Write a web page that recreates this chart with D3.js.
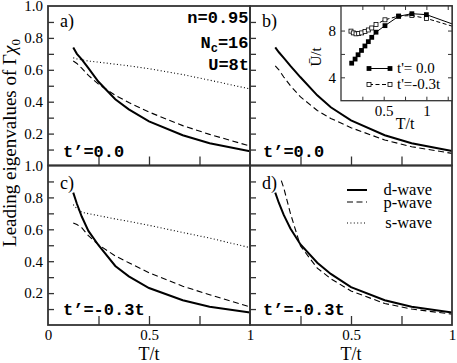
<!DOCTYPE html>
<html>
<head>
<meta charset="utf-8">
<script src="https://cdn.jsdelivr.net/npm/d3@7"></script>
<style>
  body { margin: 0; background: #fff; }
  svg { display: block; }
</style>
</head>
<body>
<div id="chart"></div>
<script>
// temperature grid T/t used by most curves
var tGrid = [0.125, 0.143, 0.167, 0.2, 0.25, 0.333, 0.4, 0.5, 0.667, 0.8, 1.0];
// p-wave of panel d) starts a bit later
var tGridDp = [0.155, 0.167, 0.2, 0.25, 0.333, 0.4, 0.5, 0.667, 0.8, 1.0];

// panel a)  t'=0.0
var aDwave = [0.74, 0.70, 0.665, 0.61, 0.525, 0.415, 0.352, 0.277, 0.19, 0.14, 0.09];
var aPwave = [0.655, 0.64, 0.61, 0.565, 0.51, 0.44, 0.395, 0.335, 0.25, 0.195, 0.122];
var aSwave = [0.675, 0.668, 0.662, 0.655, 0.648, 0.635, 0.625, 0.607, 0.57, 0.535, 0.48];
// panel b)  t'=0.0
var bDwave = [0.74, 0.71, 0.675, 0.625, 0.553, 0.44, 0.365, 0.283, 0.19, 0.14, 0.091];
var bPwave = [0.625, 0.60, 0.555, 0.50, 0.43, 0.345, 0.295, 0.237, 0.16, 0.118, 0.076];
// panel c)  t'=-0.3t
var cDwave = [0.83, 0.76, 0.68, 0.59, 0.50, 0.37, 0.305, 0.232, 0.155, 0.115, 0.079];
var cPwave = [0.64, 0.63, 0.61, 0.56, 0.503, 0.433, 0.39, 0.328, 0.243, 0.19, 0.114];
var cSwave = [0.755, 0.73, 0.707, 0.698, 0.686, 0.665, 0.65, 0.625, 0.58, 0.545, 0.485];
// panel d)  t'=-0.3t
var dDwave = [0.83, 0.765, 0.69, 0.605, 0.505, 0.39, 0.32, 0.237, 0.155, 0.115, 0.079];
var dPwave = [0.905, 0.86, 0.70, 0.495, 0.357, 0.29, 0.213, 0.135, 0.1, 0.068];

// inset: U-bar/t vs T/t
var insetT0 = [0.125, 0.165, 0.2, 0.24, 0.28, 0.32, 0.36, 0.41, 0.515, 0.675, 0.83, 1.0, 1.5];
var insetU0 = [5.21, 5.56, 5.93, 6.3, 6.68, 7.05, 7.42, 7.86, 8.42, 9.22, 9.44, 9.36, 8.05];
var insetT3 = [0.117, 0.144, 0.176, 0.207, 0.242, 0.281, 0.32, 0.36, 0.41, 0.515, 0.675, 0.83, 1.0, 1.5];
var insetU3 = [7.95, 7.8, 7.72, 7.74, 7.8, 7.92, 8.05, 8.22, 8.52, 8.92, 9.24, 9.28, 9.04, 7.94];

// ticks and labels
var xTicks = [0.25, 0.5, 0.75];
var yTicks = [0.1, 0.2, 0.3, 0.4, 0.5, 0.6, 0.7, 0.8, 0.9];
var yLabels = [0.2, 0.4, 0.6, 0.8, 1.0];
var insetXTicks = [0.25, 0.5, 0.75, 1.0, 1.25];
var insetYTicks = [4, 6, 8];
var insetXLabels = [0.5, 1];
var insetYLabels = [4, 8];
var legendNames = ["d-wave", "p-wave", "s-wave"];
var insetLegend = ["t'= 0.0", "t'=-0.3t"];

var serif = "'Liberation Serif', 'Times New Roman', serif";
var mono = "'Liberation Mono', 'Courier New', monospace";
var axisColor = "#333";

var svgWidth = 457, svgHeight = 363;
var margin = { left: 48, top: 6 };
var panelW = 202, panelH = 159.5;

var svg = d3.select("#chart")
  .append("svg")
  .attr("width", svgWidth)
  .attr("height", svgHeight);

svg.append("rect").attr("width", svgWidth).attr("height", svgHeight).attr("fill", "#fff");

var xScale = d3.scaleLinear().domain([0, 1]).range([0, panelW]);
var yScale = d3.scaleLinear().domain([0, 1]).range([panelH, 0]);

var lineStyle = {
  d: { width: 2, dash: null },
  p: { width: 1.1, dash: "6,3.5" },
  s: { width: 1.1, dash: "1,2.4" }
};

function zip(ts, vs) {
  return ts.map(function(t, i) { return [t, vs[i]]; });
}

var panels = [
  { col: 0, row: 0, label: "a)", tp: "t’=0.0", tpY: 156.5,
    series: [["d", zip(tGrid, aDwave)], ["p", zip(tGrid, aPwave)], ["s", zip(tGrid, aSwave)]] },
  { col: 1, row: 0, label: "b)", tp: "t’=0.0", tpY: 156.5,
    series: [["d", zip(tGrid, bDwave)], ["p", zip(tGrid, bPwave)]] },
  { col: 0, row: 1, label: "c)", tp: "t’=-0.3t", tpY: 315,
    series: [["d", zip(tGrid, cDwave)], ["p", zip(tGrid, cPwave)], ["s", zip(tGrid, cSwave)]] },
  { col: 1, row: 1, label: "d)", tp: "t’=-0.3t", tpY: 315,
    series: [["d", zip(tGrid, dDwave)], ["p", zip(tGridDp, dPwave)]] }
];

var line = d3.line()
  .x(function(d) { return xScale(d[0]); })
  .y(function(d) { return yScale(d[1]); });

panels.forEach(function(p) {
  var ox = margin.left + p.col * panelW;
  var oy = margin.top + p.row * panelH;
  var g = svg.append("g").attr("transform", `translate(${ox}, ${oy})`);

  // curves
  p.series.forEach(function(s) {
    var st = lineStyle[s[0]];
    g.append("path")
      .datum(s[1])
      .attr("d", line)
      .attr("fill", "none")
      .attr("stroke", "#000")
      .attr("stroke-width", st.width)
      .attr("stroke-dasharray", st.dash);
  });

  // inward ticks
  g.append("g")
    .attr("color", axisColor)
    .call(d3.axisLeft(yScale).tickValues(yTicks).tickSize(-6).tickFormat(""))
    .call(function(a) { a.select(".domain").remove(); })
    .selectAll("line").attr("stroke-width", 1.3);
  g.append("g")
    .attr("color", axisColor)
    .attr("transform", `translate(0, ${panelH})`)
    .call(d3.axisBottom(xScale).tickValues(xTicks).tickSize(-9).tickFormat(""))
    .call(function(a) { a.select(".domain").remove(); })
    .selectAll("line").attr("stroke-width", 1.3);

  // frame
  g.append("rect")
    .attr("width", panelW)
    .attr("height", panelH)
    .attr("fill", "none")
    .attr("stroke", axisColor)
    .attr("stroke-width", 1.8);

  // y tick labels on left column
  if (p.col === 0) {
    g.append("g")
      .call(d3.axisLeft(yScale).tickValues(yLabels).tickSize(0).tickPadding(5).tickFormat(d3.format(".1f")))
      .call(function(a) { a.select(".domain").remove(); })
      .attr("font-family", serif)
      .attr("font-size", 15)
      .selectAll("text").attr("fill", "#000");
  }

  // x tick labels on bottom row
  if (p.row === 1) {
    var xl = p.col === 0 ? [0, 0.5, 1] : [0.5, 1];
    g.append("g")
      .attr("transform", `translate(0, ${panelH})`)
      .call(d3.axisBottom(xScale).tickValues(xl).tickSize(0).tickPadding(4).tickFormat(d3.format("")))
      .call(function(a) { a.select(".domain").remove(); })
      .attr("font-family", serif)
      .attr("font-size", 15)
      .selectAll("text").attr("fill", "#000");

    svg.append("text")
      .attr("x", ox + xScale(0.5))
      .attr("y", 360)
      .attr("text-anchor", "middle")
      .attr("font-family", serif)
      .attr("font-size", 18)
      .text("T/t");
  }

  // panel label
  g.append("text")
    .attr("x", 12)
    .attr("y", p.row === 0 ? 21 : 23)
    .attr("font-family", serif)
    .attr("font-size", 18)
    .text(p.label);

  // t' annotation
  svg.append("text")
    .attr("x", ox + (p.col === 0 ? 15 : 13))
    .attr("y", p.tpY)
    .attr("font-family", mono)
    .attr("font-weight", "bold")
    .attr("font-size", 17)
    .text(p.tp);
});

// parameter text in panel a)
var params = svg.append("g")
  .attr("font-family", mono)
  .attr("font-weight", "bold")
  .attr("font-size", 17)
  .attr("text-anchor", "end");
params.append("text").attr("x", 248.5).attr("y", 23).text("n=0.95");
var nc = params.append("text").attr("x", 248.5).attr("y", 48.3);
nc.append("tspan").text("N");
nc.append("tspan").attr("font-size", 12).attr("dy", 4).text("c");
nc.append("tspan").attr("dy", -4).text("=16");
params.append("text").attr("x", 249).attr("y", 70).text("U=8t");

// y axis title
var yTitle = svg.append("text")
  .attr("transform", "translate(16, 143) rotate(-90)")
  .attr("text-anchor", "middle")
  .attr("font-family", serif)
  .attr("font-size", 19);
yTitle.append("tspan").text("Leading eigenvalues of Γ");
yTitle.append("tspan").attr("font-style", "italic").text("χ");
yTitle.append("tspan").attr("font-size", 13).attr("dy", 4).text("0");

// legend in panel d)
var legendX1 = 347, legendX2 = 367;
var legendLineY = [190, 202, 223];
var legendTextY = [195, 207.5, 228];
legendNames.forEach(function(name, i) {
  var st = lineStyle[name.charAt(0)];
  svg.append("line")
    .attr("x1", legendX1).attr("x2", legendX2)
    .attr("y1", legendLineY[i]).attr("y2", legendLineY[i])
    .attr("stroke", "#000")
    .attr("stroke-width", st.width)
    .attr("stroke-dasharray", st.dash);
  svg.append("text")
    .attr("x", 432)
    .attr("y", legendTextY[i])
    .attr("text-anchor", "end")
    .attr("font-family", serif)
    .attr("font-size", 16.5)
    .text(name);
});

// ---------- inset ----------
var inset = { x: 341, y: 6, w: 111, h: 94.7 };
var ix = d3.scaleLinear().domain([0, 1.3]).range([0, inset.w]);
var iy = d3.scaleLinear().domain([2, 10.1]).range([inset.h, 0]);

var ig = svg.append("g").attr("transform", `translate(${inset.x}, ${inset.y})`);
ig.append("rect").attr("width", inset.w).attr("height", inset.h).attr("fill", "#fff");

ig.append("clipPath").attr("id", "insetClip")
  .append("rect").attr("width", inset.w).attr("height", inset.h);

var iplot = ig.append("g").attr("clip-path", "url(#insetClip)");
var iline = d3.line()
  .x(function(d) { return ix(d[0]); })
  .y(function(d) { return iy(d[1]); });

var inset0 = zip(insetT0, insetU0);
var inset3 = zip(insetT3, insetU3);

iplot.append("path").datum(inset3).attr("d", iline)
  .attr("fill", "none").attr("stroke", "#000").attr("stroke-width", 1).attr("stroke-dasharray", "4,2.5");
iplot.append("path").datum(inset0).attr("d", iline)
  .attr("fill", "none").attr("stroke", "#000").attr("stroke-width", 1);

iplot.selectAll(".open").data(inset3).enter().append("rect")
  .attr("x", function(d) { return ix(d[0]) - 2; })
  .attr("y", function(d) { return iy(d[1]) - 2; })
  .attr("width", 4).attr("height", 4)
  .attr("fill", "#fff").attr("stroke", "#000").attr("stroke-width", 0.8);
iplot.selectAll(".filled").data(inset0).enter().append("rect")
  .attr("x", function(d) { return ix(d[0]) - 2.4; })
  .attr("y", function(d) { return iy(d[1]) - 2.4; })
  .attr("width", 4.8).attr("height", 4.8)
  .attr("fill", "#000");

// inset ticks on all sides
function insetTicks(axis, tr) {
  ig.append("g")
    .attr("color", axisColor)
    .attr("transform", tr)
    .call(axis.tickSize(-4).tickFormat(""))
    .call(function(a) { a.select(".domain").remove(); });
}
insetTicks(d3.axisBottom(ix).tickValues(insetXTicks), `translate(0, ${inset.h})`);
insetTicks(d3.axisTop(ix).tickValues(insetXTicks), "translate(0, 0)");
insetTicks(d3.axisLeft(iy).tickValues(insetYTicks), "translate(0, 0)");
insetTicks(d3.axisRight(iy).tickValues(insetYTicks), `translate(${inset.w}, 0)`);

ig.append("rect")
  .attr("width", inset.w).attr("height", inset.h)
  .attr("fill", "none").attr("stroke", axisColor).attr("stroke-width", 1.3);

// inset tick labels
ig.append("g")
  .call(d3.axisLeft(iy).tickValues(insetYLabels).tickSize(0).tickPadding(5))
  .call(function(a) { a.select(".domain").remove(); })
  .attr("font-family", serif).attr("font-size", 15)
  .selectAll("text").attr("fill", "#000");
ig.append("g")
  .attr("transform", `translate(0, ${inset.h})`)
  .call(d3.axisBottom(ix).tickValues(insetXLabels).tickSize(0).tickPadding(5).tickFormat(d3.format("")))
  .call(function(a) { a.select(".domain").remove(); })
  .attr("font-family", serif).attr("font-size", 15)
  .selectAll("text").attr("fill", "#000");

svg.append("text")
  .attr("x", 405).attr("y", 128.5)
  .attr("text-anchor", "middle")
  .attr("font-family", serif).attr("font-size", 16)
  .text("T/t");
svg.append("text")
  .attr("transform", "translate(321, 57) rotate(-90)")
  .attr("text-anchor", "middle")
  .attr("font-family", serif).attr("font-size", 15)
  .text("Ū/t");

// inset legend
var ilY = [68.5, 84.5];
insetLegend.forEach(function(name, i) {
  var filled = i === 0;
  ig.append("line")
    .attr("x1", 369 - inset.x).attr("x2", 390 - inset.x)
    .attr("y1", ilY[i] - inset.y).attr("y2", ilY[i] - inset.y)
    .attr("stroke", "#000").attr("stroke-width", 1)
    .attr("stroke-dasharray", filled ? null : "4,2.5");
  [369, 390].forEach(function(px) {
    ig.append("rect")
      .attr("x", px - inset.x - (filled ? 2.4 : 2))
      .attr("y", ilY[i] - inset.y - (filled ? 2.4 : 2))
      .attr("width", filled ? 4.8 : 4).attr("height", filled ? 4.8 : 4)
      .attr("fill", filled ? "#000" : "#fff")
      .attr("stroke", filled ? null : "#000").attr("stroke-width", 0.8);
  });
  svg.append("text")
    .attr("x", 397).attr("y", ilY[i] + 4.5)
    .attr("font-family", serif).attr("font-size", 15)
    .text(name);
});
</script>
</body>
</html>
